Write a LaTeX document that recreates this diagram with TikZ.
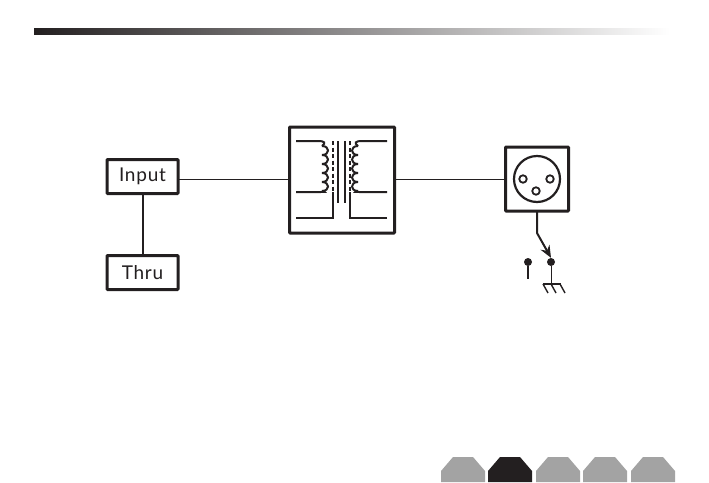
\documentclass[tikz,border=0pt]{standalone}
\usepackage{fontspec}
\setmainfont[LetterSpace=4]{Lato}
\usetikzlibrary{arrows.meta}
\definecolor{inkblack}{HTML}{231F20}
\definecolor{tabgray}{HTML}{A3A3A3}
\tikzset{
  port/.style={draw=inkblack,line width=3pt,rounded corners=0.8pt,fill=white,inner sep=0pt,outer sep=0pt},
  labelbox/.style={port,minimum width=71pt,minimum height=34pt,text=inkblack,font=\fontsize{19}{19}\selectfont},
  thinwire/.style={draw=inkblack,line width=1pt},
  heavywire/.style={draw=inkblack,line width=2pt},
  winding/.style={draw=inkblack,line width=2pt},
  tap/.style={draw=inkblack,line width=1.4pt},
  dot/.style={circle,fill=inkblack,inner sep=0pt,minimum size=8pt},
  pinhole/.style={circle,draw=inkblack,line width=1.8pt,inner sep=0pt,minimum size=7.5pt},
}
\begin{document}
\begin{tikzpicture}[x=1pt,y=-1pt]
  \useasboundingbox (0,0) rectangle (709,482);
  \shade[left color=inkblack,right color=white] (34,28) rectangle (670,34);

  \node[labelbox] (input) at (142.5,176.5) {\raisebox{-1pt}{Input}};
  \node[labelbox] (thru) at (142.5,272.5) {\raisebox{-1pt}{Thru}};
  \node[port,minimum width=105pt,minimum height=106pt] (xfmr) at (342,180) {};
  \node[port,minimum width=63pt,minimum height=64pt] (xlr) at (537,179) {};
  \draw[heavywire] (input)--(thru);
  \draw[thinwire] (input.east|-0,179)--(xfmr.west|-0,179);
  \draw[thinwire] (xfmr.east|-0,179)--(xlr);

  % transformer
  \draw[winding] (296,141)--(318,141) .. controls (325,141) and (326,143) .. (322,146);
  \foreach \k in {0,...,4} {
    \draw[winding] (322,{146+\k*9}) .. controls (330,{146+\k*9}) and (330,{155+\k*9}) .. (322,{155+\k*9});
    \draw[winding] (358,{146+\k*9}) .. controls (350,{146+\k*9}) and (350,{155+\k*9}) .. (358,{155+\k*9});
  }
  \draw[winding] (322,191) .. controls (326,192) .. (318,192)--(296,192);
  \draw[winding] (387,141)--(362,141) .. controls (355,141) and (354,143) .. (358,146);
  \draw[winding] (358,191) .. controls (354,192) .. (362,192)--(387,192);
  \draw[winding] (296,218)--(333,218)--(333,192);
  \draw[winding] (387,218)--(350,218)--(350,192);
  \draw[winding,dash pattern=on 4pt off 2.5pt] (333,141)--(333,192);
  \draw[winding,dash pattern=on 4pt off 2.5pt] (350,141)--(350,192);
  \draw[winding] (337.5,141)--(337.5,203);
  \draw[winding] (345,141)--(345,203);

  % xlr socket
  \node[circle,draw=inkblack,line width=2.2pt,inner sep=0pt,minimum size=46pt] (shell) at (537,179) {};
  \node[pinhole] (pina) at (523,179) {};
  \node[pinhole] (pinb) at (550,179) {};
  \node[pinhole] (pinc) at (536,191) {};

  % ground lift
  \coordinate (bend) at (537,233);
  \coordinate (liftend) at (528,279);
  \coordinate (gndbar) at (551,284);
  \node[dot] (lift) at (528,262) {};
  \node[dot] (gnd) at (551,262) {};
  \draw[heavywire,-{Stealth[length=12pt,width=10pt]}] (xlr.south-|bend)--(bend)--(gnd.north);
  \draw[tap] (lift)--(liftend);
  \draw[thinwire] (gnd)--(gndbar);
  \draw[tap] (543,284)--(561,284);
  \foreach \x in {543,551,560} {
    \draw[tap] (\x,284)--(\x+5,293);
  }

  % page tabs
  \foreach \x/\col in {441/tabgray,488/inkblack,536/tabgray,583/tabgray,631/tabgray} {
    \fill[\col] (\x,482)--(\x,471)--(\x+12,457)--(\x+32,457)--(\x+44,471)--(\x+44,482)--cycle;
  }
\end{tikzpicture}
\end{document}
